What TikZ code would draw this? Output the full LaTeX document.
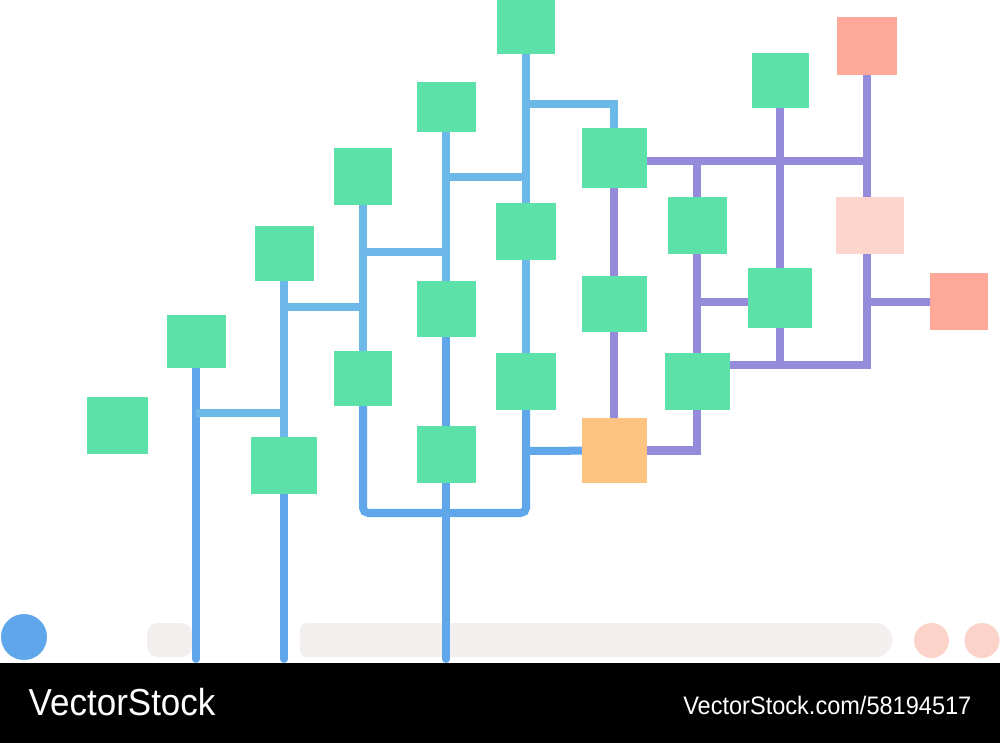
\documentclass[tikz,border=0pt]{standalone}
\usepackage{fontspec}
\usetikzlibrary{backgrounds}
\newfontfamily\footfont[FakeStretch=0.93]{Liberation Sans}
\definecolor{boxgreen}{HTML}{5CE2A9}
\definecolor{boxorange}{HTML}{FDC380}
\definecolor{boxsalmon}{HTML}{FEA899}
\definecolor{boxpink}{HTML}{FDD5CC}
\definecolor{wireblue}{HTML}{6BB8E9}
\definecolor{wiredeep}{HTML}{5FA6EA}
\definecolor{wirepurple}{HTML}{948BDB}
\definecolor{bandgray}{HTML}{F4EFEF}
\definecolor{dotpink}{HTML}{FBD3C8}

\begin{document}
\begin{tikzpicture}[x=0.01cm,y=-0.01cm,
	box/.style 2 args={fill=boxgreen, minimum width=#1*0.01cm, minimum height=#2*0.01cm, inner sep=0pt, outer sep=0pt},
	wire/.style={draw=wireblue, line width=0.08cm},
	wirelow/.style={draw=wiredeep, line width=0.08cm, line cap=round},
	pwire/.style={draw=wirepurple, line width=0.08cm}]
	\useasboundingbox (0,0) rectangle (1000,743);
	% blue tree
	\node[box={61}{57}] (b1) at (117.5,425.5) {};
	\node[box={59}{53}] (b2) at (196,341.5) {};
	\node[box={59}{55}] (b3) at (284,253.5) {};
	\node[box={66}{57}] (b8) at (284,465.5) {};
	\node[box={58}{57}] (b4) at (363,176.5) {};
	\node[box={58}{55}] (b7) at (363,378.5) {};
	\node[box={59}{50}] (b5) at (446,107) {};
	\node[box={59}{56}] (b6) at (446,309) {};
	\node[box={59}{57}] (b9) at (446,454.5) {};
	\node[box={58}{54}] (b10) at (526,27) {};
	\node[box={60}{57}] (b11) at (526,231.5) {};
	\node[box={60}{57}] (b12) at (526,381.5) {};
	% purple tree
	\node[box={65}{60}] (b13) at (614,158) {};
	\node[box={65}{56}] (b14) at (614,304) {};
	\node[box={65}{65}, fill=boxorange] (hub) at (614,450.5) {};
	\node[box={59}{57}] (b15) at (697,225.5) {};
	\node[box={65}{57}] (b17) at (697,381.5) {};
	\node[box={57}{55}] (b18) at (780,80.5) {};
	\node[box={64}{60}] (b16) at (780,298) {};
	\node[box={60}{58}, fill=boxsalmon] (s1) at (867,46) {};
	\node[box={68}{57}, fill=boxpink] (s2) at (870,225.5) {};
	\node[box={58}{57}, fill=boxsalmon] (s3) at (959,302) {};
	% ends and junctions
	\coordinate (e1) at (196,659);
	\coordinate (e2) at (284,659);
	\coordinate (e3) at (446,659);
	\coordinate (j1) at (196,413);
	\coordinate (j2) at (284,413);
	\coordinate (j3) at (284,307);
	\coordinate (j4) at (363,307);
	\coordinate (j5) at (363,252);
	\coordinate (j6) at (446,252);
	\coordinate (j7) at (446,177);
	\coordinate (j8) at (526,177);
	\coordinate (j9) at (526,104);
	\coordinate (j10) at (526,451);
	\coordinate (k1) at (363,513);
	\coordinate (k2) at (526,513);
	\coordinate (p1) at (867,161);
	\coordinate (p3) at (867,365);
	\coordinate (p4) at (780,365);
	\coordinate (p5) at (697,161);
	\coordinate (p6) at (697,302);
	\coordinate (p7) at (867,302);

	\begin{pgfonlayer}{background}
	% ground band and dots
	\fill[bandgray, rounded corners=3pt] (147,623) rectangle (192,657);
	\fill[bandgray, rounded corners=2pt] (300,623) -- (884,623) -- (895,640) -- (884,657) -- (300,657) -- cycle;
	\fill[wiredeep] (24,637) circle (23);
	\fill[dotpink] (931.5,640.5) circle (17.5);
	\fill[dotpink] (982,640.5) circle (17.5);

	\draw[wirelow] (b2) -- (e1);
	\draw[wirelow] (b8) -- (e2);
	\draw[wirelow] (b9) -- (e3);
	\draw[wire] (j1) -- (j2);
	\draw[wire] (b3) -- (b8);
	\draw[wire] (j3) -- (j4);
	\draw[wire] (b4) -- (b7);
	\draw[wire] (j5) -- (j6);
	\draw[wire] (b5) -- (b6);
	\draw[wirelow] (b6) -- (b9);
	\draw[wire] (j7) -- (j8);
	\draw[wire] (b10) -- (b11);
	\draw[wire] (b11) -- (b12);
	\draw[wire] (j9) -| (b13);
	\draw[wirelow, rounded corners=1.5pt] (b7) -- (k1) -- (k2) -- (b12);
	\draw[wirelow] (j10) -- (hub);

	\draw[pwire] (b13) -- (b14);
	\draw[pwire] (b14) -- (hub);
	\draw[pwire] (hub) -| (b17);
	\draw[pwire] (p1) -- (p1 -| b13.east);
	\draw[pwire] (s1) -- (s1 |- s2.north);
	\draw[pwire] (s1 |- s2.south) -- (p3) -- (p3 -| b17.east);
	\draw[pwire] (p7) -- (s3);
	\draw[pwire] (b18) -- (b16);
	\draw[pwire] (b16) -- (p4);
	\draw[pwire] (p5) -- (b15);
	\draw[pwire] (b15) -- (b17);
	\draw[pwire] (p6) -- (p6 -| b16.west);
	\end{pgfonlayer}

	% footer
	\fill[black] (0,663) rectangle (1000,743);
	\node[anchor=base west, text=white, inner sep=0pt, font=\footfont\fontsize{10.7pt}{12pt}\selectfont] (brand) at (28,715) {VectorStock};
	\node[anchor=base east, text=white, inner sep=0pt, font=\footfont\fontsize{7.2pt}{9pt}\selectfont] (ref) at (972,714) {VectorStock.com/58194517};
\end{tikzpicture}
\end{document}
